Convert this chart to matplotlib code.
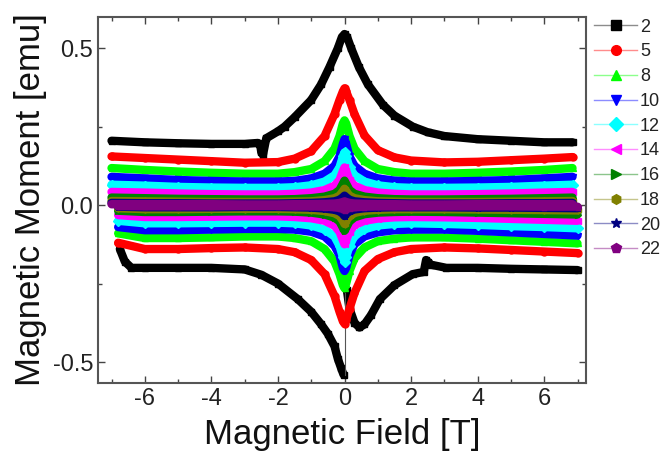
import matplotlib
matplotlib.use('Agg')
import matplotlib.pyplot as plt
from matplotlib.lines import Line2D
from matplotlib.ticker import MultipleLocator, FormatStrFormatter

plt.rcParams['font.family'] = ['Liberation Sans', 'DejaVu Sans']
plt.rcParams['axes.unicode_minus'] = False

# temperatures (K) and their styles
temps = ['2', '5', '8', '10', '12', '14', '16', '18', '20', '22']
colors = ['#000000', '#ff0000', '#00ff00', '#0000ff', '#00ffff',
          '#ff00ff', '#008000', '#808000', '#000080', '#800080']
markers = ['s', 'o', '^', 'v', 'D', '<', '>', 'h', '*', 'p']

# 2 K loop, read separately because of the flux jumps
b2_up_field = [-7.0, -6.0, -5.0, -4.0, -3.0, -2.6, -2.53, -2.5, -2.45, -2.35, -2.0, -1.8,
               -1.5, -1.0, -0.7, -0.45, -0.2, -0.08, 0.0, 0.08, 0.2, 0.43, 0.7, 1.15,
               1.5, 2.05, 2.5, 3.0, 4.0, 5.0, 6.0, 6.85]
b2_up_moment = [0.205, 0.2, 0.197, 0.195, 0.195, 0.198, 0.19, 0.168, 0.16, 0.213, 0.235, 0.25,
                0.28, 0.335, 0.385, 0.44, 0.5, 0.535, 0.545, 0.535, 0.5, 0.44, 0.385, 0.32,
                0.285, 0.25, 0.232, 0.22, 0.21, 0.205, 0.2, 0.2]
b2_dn_field_a = [-6.75, -6.6, -6.4, -6.0, -5.0, -4.0, -3.0, -2.5, -2.0, -1.4, -1.0, -0.7,
                 -0.5, -0.3, -0.2, -0.1, -0.03]
b2_dn_moment_a = [-0.14, -0.18, -0.2, -0.2, -0.2, -0.2, -0.205, -0.222, -0.25, -0.3, -0.34, -0.38,
                  -0.41, -0.45, -0.49, -0.52, -0.54]
b2_dn_field_b = [0.07, 0.15, 0.3, 0.45, 0.6, 0.8, 1.06, 1.5, 2.05, 2.38, 2.45, 2.5, 2.6,
                 3.06, 4.0, 5.0, 6.0, 7.0]
b2_dn_moment_b = [-0.27, -0.33, -0.375, -0.39, -0.38, -0.35, -0.3, -0.255, -0.22, -0.213, -0.175,
                  -0.18, -0.19, -0.2, -0.2, -0.203, -0.205, -0.207]
b2_jump_field = [0.0, 0.0]
b2_jump_moment = [-0.54, -0.28]

# shared field grid for the other temperatures
field_up = [-7.0, -6.0, -5.0, -4.0, -3.0, -2.0, -1.5, -1.0, -0.6, -0.3, -0.15, -0.05, 0.0,
            0.05, 0.15, 0.3, 0.6, 1.0, 1.5, 2.0, 3.0, 4.0, 5.0, 6.0, 6.85]
field_dn = [-6.8, -6.0, -5.0, -4.0, -3.0, -2.0, -1.5, -1.0, -0.6, -0.3, -0.15, -0.05, 0.0,
            0.05, 0.15, 0.3, 0.6, 1.0, 1.5, 2.0, 3.0, 4.0, 5.0, 6.0, 7.0]

m5_up = [0.155, 0.15, 0.145, 0.14, 0.135, 0.137, 0.148, 0.172, 0.22, 0.29, 0.335, 0.362, 0.372,
         0.362, 0.335, 0.29, 0.222, 0.175, 0.152, 0.142, 0.136, 0.138, 0.143, 0.148, 0.153]
m5_dn = [-0.12, -0.14, -0.14, -0.137, -0.135, -0.14, -0.15, -0.175, -0.22, -0.29, -0.34, -0.37, -0.378,
         -0.365, -0.33, -0.28, -0.21, -0.172, -0.15, -0.14, -0.135, -0.138, -0.143, -0.148, -0.153]
m8_up = [0.118, 0.112, 0.107, 0.103, 0.1, 0.1, 0.105, 0.115, 0.14, 0.18, 0.22, 0.26, 0.27,
         0.26, 0.22, 0.18, 0.14, 0.115, 0.105, 0.1, 0.1, 0.103, 0.107, 0.112, 0.118]
m8_dn = [-0.09, -0.105, -0.105, -0.103, -0.1, -0.1, -0.105, -0.115, -0.14, -0.18, -0.22, -0.255, -0.265,
         -0.25, -0.21, -0.17, -0.135, -0.115, -0.107, -0.103, -0.103, -0.107, -0.112, -0.117, -0.122]
m10_up = [0.09, 0.085, 0.08, 0.077, 0.075, 0.075, 0.077, 0.085, 0.1, 0.125, 0.155, 0.195, 0.21,
          0.195, 0.155, 0.125, 0.1, 0.085, 0.078, 0.075, 0.075, 0.077, 0.08, 0.085, 0.09]
m10_dn = [-0.07, -0.08, -0.08, -0.078, -0.076, -0.076, -0.078, -0.085, -0.1, -0.13, -0.16, -0.2, -0.21,
          -0.2, -0.16, -0.125, -0.1, -0.087, -0.08, -0.078, -0.078, -0.082, -0.087, -0.092, -0.097]
m12_up = [0.065, 0.062, 0.058, 0.056, 0.055, 0.055, 0.057, 0.063, 0.075, 0.095, 0.12, 0.155, 0.168,
          0.155, 0.12, 0.095, 0.075, 0.063, 0.057, 0.055, 0.055, 0.056, 0.058, 0.062, 0.065]
m12_dn = [-0.05, -0.058, -0.058, -0.057, -0.056, -0.056, -0.058, -0.065, -0.078, -0.1, -0.13, -0.165, -0.18,
          -0.165, -0.13, -0.098, -0.077, -0.065, -0.06, -0.058, -0.06, -0.063, -0.067, -0.07, -0.074]
m14_up = [0.042, 0.04, 0.037, 0.035, 0.034, 0.034, 0.036, 0.04, 0.048, 0.062, 0.08, 0.108, 0.12,
          0.108, 0.08, 0.062, 0.048, 0.04, 0.036, 0.034, 0.034, 0.035, 0.037, 0.04, 0.042]
m14_dn = [-0.032, -0.038, -0.038, -0.037, -0.036, -0.036, -0.038, -0.042, -0.05, -0.066, -0.085, -0.112, -0.125,
          -0.112, -0.085, -0.064, -0.05, -0.043, -0.039, -0.038, -0.039, -0.041, -0.044, -0.047, -0.05]
m16_up = [0.024, 0.022, 0.02, 0.019, 0.018, 0.018, 0.019, 0.022, 0.027, 0.036, 0.048, 0.068, 0.078,
          0.068, 0.048, 0.036, 0.027, 0.022, 0.019, 0.018, 0.018, 0.019, 0.02, 0.022, 0.024]
m16_dn = [-0.018, -0.022, -0.022, -0.021, -0.02, -0.02, -0.021, -0.024, -0.03, -0.04, -0.052, -0.072, -0.082,
          -0.072, -0.052, -0.039, -0.029, -0.024, -0.022, -0.021, -0.022, -0.024, -0.026, -0.028, -0.03]
m18_up = [0.013, 0.012, 0.011, 0.01, 0.01, 0.01, 0.011, 0.012, 0.016, 0.022, 0.03, 0.044, 0.052,
          0.044, 0.03, 0.022, 0.016, 0.012, 0.011, 0.01, 0.01, 0.01, 0.011, 0.012, 0.013]
m18_dn = [-0.01, -0.013, -0.013, -0.012, -0.012, -0.012, -0.013, -0.015, -0.019, -0.026, -0.035, -0.05, -0.06,
          -0.05, -0.035, -0.025, -0.018, -0.015, -0.013, -0.013, -0.013, -0.014, -0.015, -0.016, -0.017]
m20_up = [0.007, 0.006, 0.006, 0.005, 0.005, 0.005, 0.006, 0.007, 0.009, 0.012, 0.017, 0.025, 0.03,
          0.025, 0.017, 0.012, 0.009, 0.007, 0.006, 0.005, 0.005, 0.005, 0.006, 0.006, 0.007]
m20_dn = [-0.005, -0.007, -0.007, -0.007, -0.006, -0.006, -0.007, -0.008, -0.011, -0.015, -0.02, -0.028, -0.035,
          -0.028, -0.02, -0.014, -0.01, -0.008, -0.007, -0.007, -0.007, -0.008, -0.008, -0.009, -0.01]
m22_up = [0.003, 0.003, 0.003, 0.003, 0.002, 0.002, 0.003, 0.003, 0.004, 0.005, 0.007, 0.01, 0.012,
          0.01, 0.007, 0.005, 0.004, 0.003, 0.003, 0.002, 0.002, 0.003, 0.003, 0.003, 0.003]
m22_dn = [-0.003, -0.004, -0.004, -0.004, -0.003, -0.003, -0.004, -0.004, -0.005, -0.007, -0.009, -0.012, -0.015,
          -0.012, -0.009, -0.007, -0.005, -0.004, -0.004, -0.004, -0.004, -0.004, -0.004, -0.005, -0.005]

upper = [m5_up, m8_up, m10_up, m12_up, m14_up, m16_up, m18_up, m20_up, m22_up]
lower = [m5_dn, m8_dn, m10_dn, m12_dn, m14_dn, m16_dn, m18_dn, m20_dn, m22_dn]

fig = plt.figure(figsize=(6.68, 4.66), dpi=100)
ax = fig.add_axes([0.147, 0.178, 0.73, 0.786])

lw = 6
ms = 5

def branch(x, y, c, m):
    ax.plot(x, y, color=c, lw=lw, marker=m, ms=ms, mfc=c, mec=c,
            solid_capstyle='round', solid_joinstyle='round')

branch(b2_up_field, b2_up_moment, colors[0], markers[0])
branch(b2_dn_field_a, b2_dn_moment_a, colors[0], markers[0])
branch(b2_dn_field_b, b2_dn_moment_b, colors[0], markers[0])
ax.plot(b2_jump_field, b2_jump_moment, color='#555555', lw=0.8)

for i in range(len(upper)):
    branch(field_up, upper[i], colors[i + 1], markers[i + 1])
    branch(field_dn, lower[i], colors[i + 1], markers[i + 1])

ax.set_xlim(-7.4, 7.25)
ax.set_ylim(-0.567, 0.6)
ax.xaxis.set_major_locator(MultipleLocator(2))
ax.xaxis.set_minor_locator(MultipleLocator(1))
ax.yaxis.set_major_locator(MultipleLocator(0.5))
ax.yaxis.set_minor_locator(MultipleLocator(0.25))
ax.yaxis.set_major_formatter(FormatStrFormatter('%.1f'))
ax.tick_params(which='both', direction='in', top=True, right=True,
               color='#444444', width=1.0, labelsize=17, labelcolor='#222222')
ax.tick_params(which='major', length=5)
ax.tick_params(which='minor', length=3)
for s in ax.spines.values():
    s.set_color('#555555')
    s.set_linewidth(1.5)

ax.set_xlabel('Magnetic Field [T]', fontsize=25, color='#111111', labelpad=6)
ax.set_ylabel('Magnetic Moment [emu]', fontsize=25, color='#111111', labelpad=4)

handles = []
for c, m in zip(colors, markers):
    light = matplotlib.colors.to_rgba(c, 0.45)
    handles.append(Line2D([], [], color=light, lw=1.0, marker=m, ms=7, mfc=c, mec=c))
ax.legend(handles, temps, loc='upper left', bbox_to_anchor=(1.013, 1.0), frameon=False,
          fontsize=13, handlelength=2.4, handletextpad=0.15, labelspacing=0.43,
          borderaxespad=0.0, borderpad=0.1, labelcolor='#222222')

fig.savefig('out.png', dpi=100)
